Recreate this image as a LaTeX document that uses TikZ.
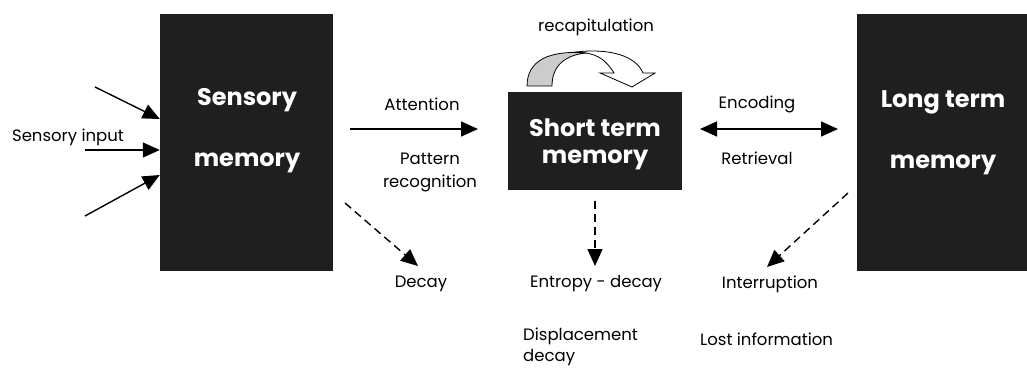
\documentclass[tikz,border=0pt]{standalone}
\usepackage{fontspec}
\setmainfont{Poppins}
\usetikzlibrary{arrows.meta}

\tikzset{
  membox/.style={fill=black!88, draw=none, inner sep=0pt},
  boxtext/.style={text=white, font=\fontsize{24}{28}\selectfont\bfseries},
  lbl/.style={font=\fontsize{16.5}{23}\selectfont, inner sep=0pt},
  flow/.style={line width=1.4pt, -{Triangle[length=17pt,width=15pt]}},
  loss/.style={flow, dash pattern=on 8pt off 5pt}
}

\begin{document}
\begin{tikzpicture}[x=1pt, y=-1pt]
\useasboundingbox (0,0) rectangle (1027,369);
% memory stores
    \node[membox, minimum width=173pt, minimum height=257pt] (smem) at (246.5,142.5) {};
    \node[membox, minimum width=174pt, minimum height=98pt] (stm) at (595,141) {};
    \node[membox, minimum width=172pt, minimum height=257pt] (ltm) at (943,142.5) {};
    \node[boxtext] (smemtop) at (247,100) {Sensory};
    \node[boxtext] (smembot) at (247,163) {memory};
    \node[boxtext] (stmtop) at (595,128) {Short term};
    \node[boxtext] (stmbot) at (595,160) {memory};
    \node[boxtext] (ltmtop) at (943,102) {Long term};
    \node[boxtext] (ltmbot) at (943,165) {memory};
% sensory input
    \coordinate (in1) at (95,87);
    \coordinate (in2) at (85,150);
    \coordinate (in3) at (85,216);
    \draw[flow] (in1) -- (smem.west |- 0,119);
    \draw[flow] (in2) -- (smem.west |- 0,150);
    \draw[flow] (in3) -- (smem.west |- 0,175);
    \node[lbl] (input) at (68,137) {Sensory input};
% transfer arrows
    \coordinate (att1) at (350,129);
    \coordinate (att2) at (478,129);
    \draw[flow] (att1) -- (att2);
    \node[lbl] (attention) at (422,104) {Attention};
    \node[lbl, align=center] (pattern) at (430,172) {Pattern\\recognition};
    \coordinate (enc1) at (700,129);
    \coordinate (enc2) at (838,129);
    \draw[flow, {Triangle[length=17pt,width=15pt]}-{Triangle[length=17pt,width=15pt]}] (enc1) -- (enc2);
    \node[lbl] (encoding) at (757,104) {Encoding};
    \node[lbl] (retrieval) at (757,158) {Retrieval};
% forgetting
    \node[lbl] (decay) at (421,284) {Decay};
    \node[lbl] (entropy) at (596,284) {Entropy - decay};
    \node[lbl] (interrupt) at (770,284) {Interruption};
    \node[lbl, align=left, anchor=west, font=\fontsize{16.5}{21}\selectfont] (displace) at (523,347) {Displacement\\decay};
    \node[lbl, anchor=west] (lost) at (700,339) {Lost information};
    \coordinate (sfrom) at (345,203);
    \coordinate (sto) at (418,266);
    \coordinate (stfrom) at (595,201);
    \coordinate (stto) at (595,266);
    \coordinate (lfrom) at (848,193);
    \coordinate (lto) at (767,267);
    \draw[loss] (sfrom) -- (sto);
    \draw[loss] (stfrom) -- (stto);
    \draw[loss] (lfrom) -- (lto);
% recapitulation
    \node[lbl] (recap) at (596,27) {recapitulation};
    \draw[line width=0.8pt, fill=white] (576,52) .. controls (610,48) and (636,56) .. (643,73)
      -- (655,73) -- (632,87) -- (600,73) -- (614,73)
      .. controls (606,60) and (598,55) .. (586,53) -- cycle;
    \draw[line width=0.8pt, fill=black!20] (527,86) .. controls (527,60) and (550,50) .. (586,53)
      .. controls (566,55) and (552,65) .. (552,86) -- cycle;
\end{tikzpicture}
\end{document}
